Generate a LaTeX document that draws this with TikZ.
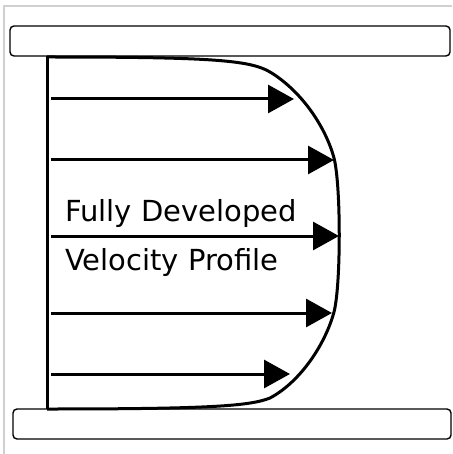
\documentclass[tikz,border=0pt]{standalone}
\usepackage{fontspec}
\setmainfont{DejaVu Sans}
\usetikzlibrary{arrows.meta, positioning}
\definecolor{cFrame}{RGB}{208,208,208}
\tikzset{
	plate/.style    ={draw=black, line width=1.4pt, rounded corners=4pt, fill=white},
	wall/.style     ={draw=black, line width=3pt},
	profile/.style  ={draw=black, line width=3pt, line join=round},
	vel/.style      ={-{Triangle[length=26pt, width=28pt]}, line width=3pt},
	lbl/.style      ={font=\fontsize{29}{35}\selectfont, inner sep=0pt, anchor=base west},
}
\begin{document}
\begin{tikzpicture}[x=1pt, y=-1pt]
	\useasboundingbox (0,0) rectangle (452,454);
	% light frame
	\draw[cFrame, line width=1.2pt] (4,454) -- (4,6) -- (452,6);
	% channel walls
	\draw[plate] (10,26) rectangle (450,56);
	\draw[plate] (13,409) rectangle (451,439);
	\coordinate (wtop) at (47,56);
	\coordinate (wbot) at (47,409);
	\draw[wall] (wtop) -- (wbot);
	% velocity profile
	\draw[profile] (47,57) .. controls (210,57) and (250,60) .. (270,72)
		.. controls (300,90) and (325,125) .. (334,158)
		.. controls (341,185) and (341,285) .. (334,312)
		.. controls (325,345) and (300,382) .. (270,398)
		.. controls (250,406) and (210,409) .. (47,409);
	% arrows
	\coordinate (s1) at (51,99);  \coordinate (e1) at (294,99);
	\coordinate (s2) at (51,160); \coordinate (e2) at (334,160);
	\coordinate (s3) at (51,236); \coordinate (e3) at (339,236);
	\coordinate (s4) at (51,313); \coordinate (e4) at (332,313);
	\coordinate (s5) at (51,374); \coordinate (e5) at (290,374);
	\draw[vel] (s1) -- (e1);
	\draw[vel] (s2) -- (e2);
	\draw[vel] (s3) -- (e3);
	\draw[vel] (s4) -- (e4);
	\draw[vel] (s5) -- (e5);
	% label
	\node[lbl] (fully) at (65,221) {Fully Developed};
	\node[lbl] (veloc) at (65,270) {Velocity Profile};
\end{tikzpicture}
\end{document}
